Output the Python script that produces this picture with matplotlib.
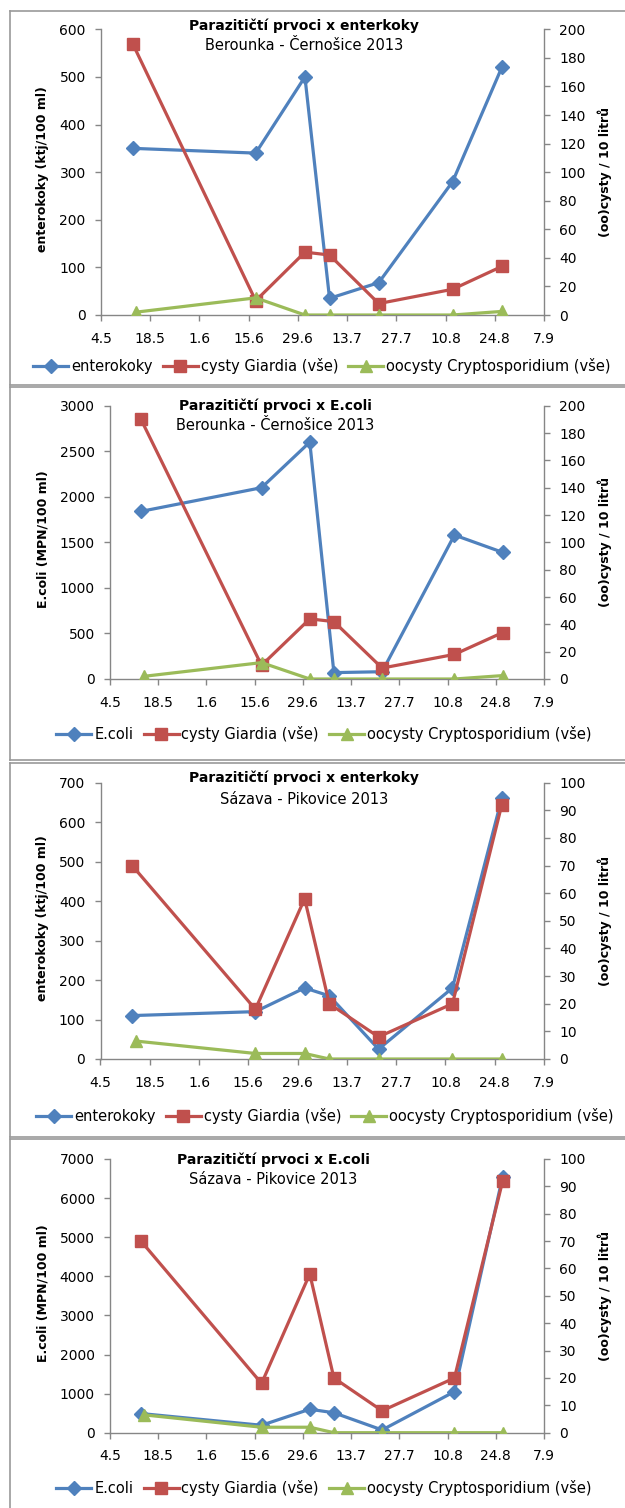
import numpy as np
import matplotlib
matplotlib.use("Agg")
import matplotlib.pyplot as plt
import matplotlib.dates as mdates
from matplotlib.lines import Line2D
from matplotlib.ticker import FuncFormatter

plt.rcParams['font.family'] = ['DejaVu Sans']

# ---------------- data ----------------
sample_dates = np.array(['2013-05-13', '2013-06-17', '2013-07-01', '2013-07-08',
                         '2013-07-22', '2013-08-12', '2013-08-26'], dtype='datetime64[D]')
crypto_dates = np.array(['2013-05-14', '2013-06-17', '2013-07-01', '2013-07-08',
                         '2013-07-22', '2013-08-12', '2013-08-26'], dtype='datetime64[D]')
x_start = np.datetime64('2013-05-04')
x_end = np.datetime64('2013-09-07')
tick_step_days = 14

ber_enterokoky = [350, 340, 500, 35, 68, 280, 520]
ber_ecoli = [1840, 2100, 2600, 70, 80, 1580, 1390]
ber_giardia = [190, 10, 44, 42, 8, 18, 34]
ber_crypto = [2, 12, 0, 0, 0, 0, 2.5]

saz_enterokoky = [110, 120, 180, 160, 25, 180, 660]
saz_ecoli = [490, 190, 600, 510, 70, 1050, 6550]
saz_giardia = [70, 18, 58, 20, 8, 20, 92]
saz_crypto = [6.5, 2, 2, 0, 0, 0, 0]

titles = ["Parazitičtí prvoci x enterkoky", "Parazitičtí prvoci x E.coli",
          "Parazitičtí prvoci x enterkoky", "Parazitičtí prvoci x E.coli"]
subtitles = ["Berounka - Černošice 2013", "Berounka - Černošice 2013",
             "Sázava - Pikovice 2013", "Sázava - Pikovice 2013"]
left_labels = ["enterokoky (ktj/100 ml)", "E.coli (MPN/100 ml)",
               "enterokoky (ktj/100 ml)", "E.coli (MPN/100 ml)"]
right_label = "(oo)cysty / 10 litrů"
bacteria_names = ["enterokoky", "E.coli", "enterokoky", "E.coli"]
giardia_name = "cysty Giardia (vše)"
crypto_name = "oocysty Cryptosporidium (vše)"

left_limits = [(600, 100), (3000, 500), (700, 100), (7000, 1000)]
right_limits = [(200, 20), (200, 20), (100, 10), (100, 10)]

bacteria_series = [ber_enterokoky, ber_ecoli, saz_enterokoky, saz_ecoli]
giardia_series = [ber_giardia, ber_giardia, saz_giardia, saz_giardia]
crypto_series = [ber_crypto, ber_crypto, saz_crypto, saz_crypto]

# ---------------- layout (pixels) ----------------
W, H = 625, 1508
fig = plt.figure(figsize=(W / 100, H / 100), dpi=100)

# (x0, x1, ytop, ybottom)
axes_px = [(101, 544, 29.3, 315), (110, 544, 405.7, 679),
           (100.5, 544, 782.7, 1059), (110, 544, 1159, 1432.7)]
title_x = [304, 275, 304, 273]
title_y = [(26, 45), (406, 426), (778, 799), (1160, 1179)]
legend_pos = [(322, 366.5), (324, 734), (325, 1116), (324, 1488)]
panel_tops = [10.5, 387, 763, 1138.5]
panel_bottoms = [384.5, 759.5, 1136.5, None]

BLUE = '#4F81BD'
RED = '#C0504D'
GREEN = '#9BBB59'
AXCOL = '#868686'

def fx(px):
    return px / W

def fy(py):
    return 1 - py / H

ticks = np.arange(x_start, x_end + np.timedelta64(1, 'D'), np.timedelta64(tick_step_days, 'D'))
date_fmt = FuncFormatter(lambda v, pos: "{}.{}".format(mdates.num2date(v).day, mdates.num2date(v).month))

def to_num(d):
    return mdates.date2num(d.astype('datetime64[ms]').astype(object))

# panel frames
for top, bot in zip(panel_tops, panel_bottoms):
    fig.add_artist(Line2D([fx(9.5), 1.0], [fy(top), fy(top)], color='#9A9A9A', lw=1.2))
    yb = bot if bot is not None else H + 5
    fig.add_artist(Line2D([fx(9.5), fx(9.5)], [fy(top), fy(yb)], color='#9A9A9A', lw=1.2))
    if bot is not None:
        fig.add_artist(Line2D([fx(9.5), 1.0], [fy(bot), fy(bot)], color='#9A9A9A', lw=1.2))

for i in range(4):
    x0, x1, yt, yb = axes_px[i]
    ax = fig.add_axes([fx(x0), fy(yb), (x1 - x0) / W, (yb - yt) / H])
    ax2 = ax.twinx()

    l1, = ax.plot(sample_dates, bacteria_series[i], color=BLUE, lw=2.3, marker='D',
                  ms=6.8, mec=BLUE, mfc=BLUE, label=bacteria_names[i], zorder=3)
    l2, = ax2.plot(sample_dates, giardia_series[i], color=RED, lw=2.3, marker='s',
                   ms=8.2, mec=RED, mfc=RED, label=giardia_name, zorder=3)
    l3, = ax2.plot(crypto_dates, crypto_series[i], color=GREEN, lw=2.3, marker='^',
                   ms=8.5, mec=GREEN, mfc=GREEN, label=crypto_name, zorder=4)

    lmax, lstep = left_limits[i]
    rmax, rstep = right_limits[i]
    ax.set_ylim(0, lmax)
    ax.set_yticks(np.arange(0, lmax + 1, lstep))
    ax2.set_ylim(0, rmax)
    ax2.set_yticks(np.arange(0, rmax + 1, rstep))
    ax.set_xlim(to_num(x_start), to_num(x_end))
    ax.set_xticks([to_num(t) for t in ticks])
    ax.xaxis.set_major_formatter(date_fmt)

    for a in (ax, ax2):
        a.spines['top'].set_visible(False)
        for s in a.spines.values():
            s.set_color(AXCOL)
            s.set_linewidth(1.0)
        a.patch.set_visible(False)
    ax.spines['right'].set_visible(False)
    ax2.spines['left'].set_visible(False)
    ax2.spines['bottom'].set_visible(False)

    ax.tick_params(axis='y', direction='out', length=4, width=1, color=AXCOL,
                   labelsize=10, pad=7)
    ax.tick_params(axis='x', direction='out', length=4, width=1, color=AXCOL,
                   labelsize=10, pad=8)
    ax2.tick_params(axis='y', direction='out', length=4, width=1, color=AXCOL,
                    labelsize=10, pad=7)

    # axis titles
    fig.text(fx(43), fy((yt + yb) / 2 - 3), left_labels[i], rotation=90, ha='center',
             va='center', fontsize=9, fontweight='bold')
    fig.text(fx(605), fy((yt + yb) / 2), right_label, rotation=90, ha='center',
             va='center', fontsize=9, fontweight='bold')

    # chart title
    fig.text(fx(title_x[i]), fy(title_y[i][0]), titles[i], ha='center', va='center',
             fontsize=10, fontweight='bold')
    fig.text(fx(title_x[i]), fy(title_y[i][1]), subtitles[i], ha='center', va='center',
             fontsize=10.5)

    lx, ly = legend_pos[i]
    fig.legend(handles=[l1, l2, l3], loc='center', bbox_to_anchor=(fx(lx), fy(ly)),
               ncol=3, frameon=False, fontsize=10.5, handlelength=2.4,
               handletextpad=0.2, columnspacing=0.7, borderaxespad=0, borderpad=0)

fig.savefig('out.png', dpi=100)
